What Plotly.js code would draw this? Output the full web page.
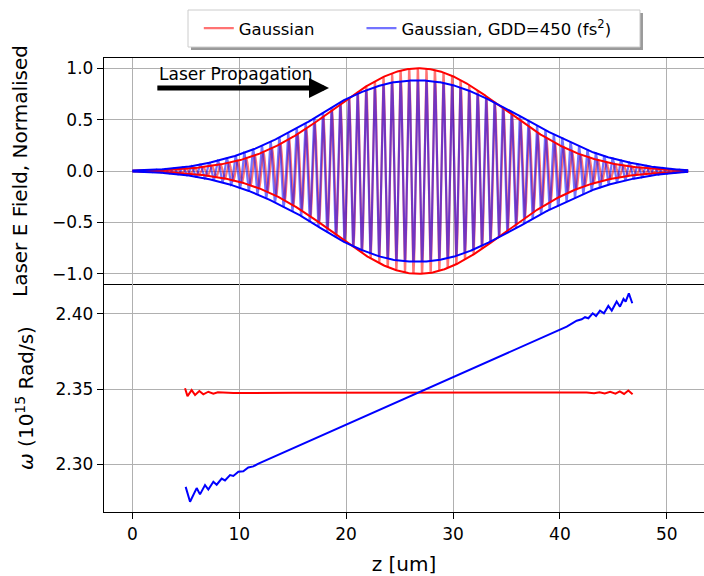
<!DOCTYPE html>
<html><head><meta charset="utf-8">
<script src="https://cdn.plot.ly/plotly-3.0.1.min.js"></script>
<style>html,body{margin:0;padding:0;background:#fff}#chart{width:704px;height:576px}</style>
</head><body><div id="chart"></div>
<script>
// ---- data ----
const NB = '\u00a0';
const seriesNames = ['Gaussian' + NB.repeat(8), 'Gaussian, GDD=450 (fs<sup>2</sup>)'];
const xTicks = [0, 10, 20, 30, 40, 50];
const yTopTicks = [-1.0, -0.5, 0.0, 0.5, 1.0];
const yBottomTicks = [2.30, 2.35, 2.40];

// envelope of the field (top panel), sampled every 2 um
const zEnv = [0,2,4,6,8,10,12,14,16,18,20,22,24,26,28,30,32,34,36,38,40,42,44,46,48,50,52];
const redEnv = [0.003,0.007,0.016,0.032,0.060,0.105,0.174,0.271,0.395,0.539,0.692,0.832,0.939,0.995,0.989,0.922,0.806,0.661,0.509,0.368,0.249,0.158,0.095,0.053,0.028,0.014,0.006];
const blueEnv = [0.005,0.012,0.028,0.055,0.100,0.160,0.240,0.340,0.450,0.580,0.700,0.790,0.855,0.880,0.875,0.835,0.760,0.660,0.550,0.430,0.330,0.230,0.150,0.095,0.052,0.025,0.008];
const pulseCentre = 26.7;

// instantaneous frequency (bottom panel), 10^15 rad/s
const redOmegaZ = [4.93,5.16,5.55,5.87,6.27,6.64,7.11,7.58,8.0,9.45,15,20,25,30,35,40,41.5,42.5,43.2,43.7,44.2,44.7,45.2,45.6,46.0,46.4,46.8];
const redOmega  = [2.3505,2.3453,2.3493,2.3460,2.3487,2.3465,2.3482,2.3469,2.3478,2.3473,2.3475,2.3475,2.3475,2.3475,2.3475,2.3475,2.3475,2.3477,2.3472,2.3479,2.3470,2.3481,2.3469,2.3484,2.3467,2.3490,2.3465];
const blueOmegaZ = [4.99,5.40,6.02,6.33,6.80,7.11,7.58,7.89,8.36,8.67,9.14,9.45,9.92,10.38,10.85,11.32,11.8,15,20,25,30,35,40,40.64,41.57,42.04,42.35,42.66,43.07,43.38,43.75,44.12,44.53,44.85,45.31,45.62,45.95,46.15,46.45,46.77];
const blueOmega  = [2.2850,2.2751,2.2842,2.2800,2.2862,2.2832,2.2884,2.2864,2.2905,2.2893,2.2928,2.2922,2.2950,2.2954,2.2979,2.2986,2.3005,2.3106,2.3263,2.3420,2.3578,2.3735,2.3892,2.3914,2.3954,2.3963,2.3977,2.3970,2.4003,2.3985,2.4021,2.4003,2.4052,2.4021,2.4081,2.4047,2.4098,2.4080,2.4135,2.4070];
// linear part of the blue chirp used for the carrier
const blueTrendZ = [10, 40];
const blueTrendOmega = [2.2949, 2.3892];

// ---- helpers ----
function catmull(zs, vs, z) {
  const n = zs.length;
  if (z <= zs[0]) return vs[0];
  if (z >= zs[n-1]) return vs[n-1];
  let i = 0; while (i < n-2 && z > zs[i+1]) i++;
  const t = (z - zs[i]) / (zs[i+1] - zs[i]);
  const p0 = vs[Math.max(i-1,0)], p1 = vs[i], p2 = vs[i+1], p3 = vs[Math.min(i+2,n-1)];
  const v = 0.5*((2*p1) + (-p0+p2)*t + (2*p0-5*p1+4*p2-p3)*t*t + (-p0+3*p1-3*p2+p3)*t*t*t);
  return Math.max(v, 0);
}
const C = 0.299792458; // um per fs
const K = 1 / C;       // rad/um per 1e15 rad/s
const sortedRed = redOmega.slice().sort((a,b)=>a-b);
const redCarrier = sortedRed[Math.floor(sortedRed.length/2)];
const bSlope = (blueTrendOmega[1]-blueTrendOmega[0])/(blueTrendZ[1]-blueTrendZ[0]);
const bAtCentre = blueTrendOmega[0] + bSlope*(pulseCentre - blueTrendZ[0]);

const zFine = [], redField = [], blueField = [];
const zLo = zEnv[0], zHi = zEnv[zEnv.length-1];
for (let z = zLo; z <= zHi + 1e-9; z += 0.03) {
  const d = z - pulseCentre;
  const phR = K * redCarrier * d;
  const phB = K * (bAtCentre * d + 0.5 * bSlope * d * d);
  zFine.push(z);
  redField.push(catmull(zEnv, redEnv, z) * Math.cos(phR));
  blueField.push(catmull(zEnv, blueEnv, z) * Math.cos(phB));
}
const zE = [], rUp = [], rDn = [], bUp = [], bDn = [];
for (let z = zLo; z <= zHi + 1e-9; z += 0.1) {
  const r = catmull(zEnv, redEnv, z), b = catmull(zEnv, blueEnv, z);
  zE.push(z); rUp.push(r); rDn.push(-r); bUp.push(b); bDn.push(-b);
}

const RED = 'rgb(255,0,0)', BLUE = 'rgb(0,0,255)';
const RED_A = 'rgba(255,0,0,0.55)', BLUE_A = 'rgba(0,0,255,0.55)';

const traces = [
  {x: zFine, y: redField, type:'scatter', mode:'lines', name: seriesNames[0], line:{color:RED_A, width:2.2}, xaxis:'x', yaxis:'y'},
  {x: zFine, y: blueField, type:'scatter', mode:'lines', name: seriesNames[1], line:{color:BLUE_A, width:2.2}, xaxis:'x', yaxis:'y'},
  {x: zE, y: rUp, type:'scatter', mode:'lines', showlegend:false, line:{color:RED, width:2}, xaxis:'x', yaxis:'y', hoverinfo:'skip'},
  {x: zE, y: rDn, type:'scatter', mode:'lines', showlegend:false, line:{color:RED, width:2}, xaxis:'x', yaxis:'y', hoverinfo:'skip'},
  {x: zE, y: bUp, type:'scatter', mode:'lines', showlegend:false, line:{color:BLUE, width:2}, xaxis:'x', yaxis:'y', hoverinfo:'skip'},
  {x: zE, y: bDn, type:'scatter', mode:'lines', showlegend:false, line:{color:BLUE, width:2}, xaxis:'x', yaxis:'y', hoverinfo:'skip'},
  {x: redOmegaZ, y: redOmega, type:'scatter', mode:'lines', showlegend:false, line:{color:RED, width:2}, xaxis:'x2', yaxis:'y2'},
  {x: blueOmegaZ, y: blueOmega, type:'scatter', mode:'lines', showlegend:false, line:{color:BLUE, width:2}, xaxis:'x2', yaxis:'y2'}
];

const FONT = 'DejaVu Sans, sans-serif';
const grid = '#b0b0b0';
const layout = {
  width: 704, height: 576,
  margin: {l:104, r:0, t:58, b:64},
  paper_bgcolor:'white', plot_bgcolor:'white',
  font: {family: FONT, size: 17, color:'black'},
  showlegend: true,
  legend: {orientation:'h', x:0.158, xanchor:'left', y:1.065, yanchor:'middle',
           borderwidth:0, bgcolor:'rgba(0,0,0,0)', font:{size:16.5, family:FONT}},
  shapes: [
    {type:'rect', xref:'paper', yref:'paper', x0:0.145, x1:0.8983, y0:1.0176, y1:1.0991,
     line:{width:0}, fillcolor:'#9a9a9a', layer:'above'},
    {type:'rect', xref:'paper', yref:'paper', x0:0.14, x1:0.8933, y0:1.0242, y1:1.1057,
     line:{width:1, color:'#cccccc'}, fillcolor:'white', layer:'above'}
  ],
  xaxis: {domain:[0,1], anchor:'y', range:[-2.65,53.48], tickvals:xTicks, showticklabels:false,
          showgrid:true, gridcolor:grid, gridwidth:1, zeroline:false,
          showline:true, mirror:true, linecolor:'black', linewidth:1.2, ticks:''},
  yaxis: {domain:[0.502,1], anchor:'x', range:[-1.1,1.1], tickvals:yTopTicks, tickformat:'.1f',
          showgrid:true, gridcolor:grid, gridwidth:1, zeroline:false,
          showline:true, linecolor:'black', linewidth:1.2, ticks:'outside', ticklen:6, tickcolor:'black',
          title:{text:'Laser E Field, Normalised', font:{size:20, family:FONT}, standoff:19}},
  xaxis2: {domain:[0,1], anchor:'y2', range:[-2.65,53.48], tickvals:xTicks, tickformat:'d',
          showgrid:true, gridcolor:grid, gridwidth:1, zeroline:false,
          showline:true, linecolor:'black', linewidth:1.2, ticks:'outside', ticklen:6, tickcolor:'black',
          title:{text:'z [um]', font:{size:20, family:FONT}, standoff:18}},
  yaxis2: {domain:[0,0.502], anchor:'x2', range:[2.2683,2.4197], tickvals:yBottomTicks, tickformat:'.2f',
          showgrid:true, gridcolor:grid, gridwidth:1, zeroline:false,
          showline:true, linecolor:'black', linewidth:1.2, ticks:'outside', ticklen:6, tickcolor:'black',
          title:{text:'<i>ω</i> (10<sup>15</sup> Rad/s)', font:{size:20, family:FONT}, standoff:16}},
  annotations: [
    {xref:'x', yref:'y', x:2.28, y:0.948, xanchor:'left', yanchor:'middle', text:'Laser Propagation',
     showarrow:false, font:{size:17, family:FONT, color:'black'}},
    {xref:'x', yref:'y', x:18.4, y:0.808, axref:'x', ayref:'y', ax:2.2, ay:0.808, text:'',
     showarrow:true, arrowhead:2, arrowsize:0.8, arrowwidth:5, arrowcolor:'black'}
  ]
};

Plotly.newPlot('chart', traces, layout, {displayModeBar:false, staticPlot:true});
</script>
</body></html>
